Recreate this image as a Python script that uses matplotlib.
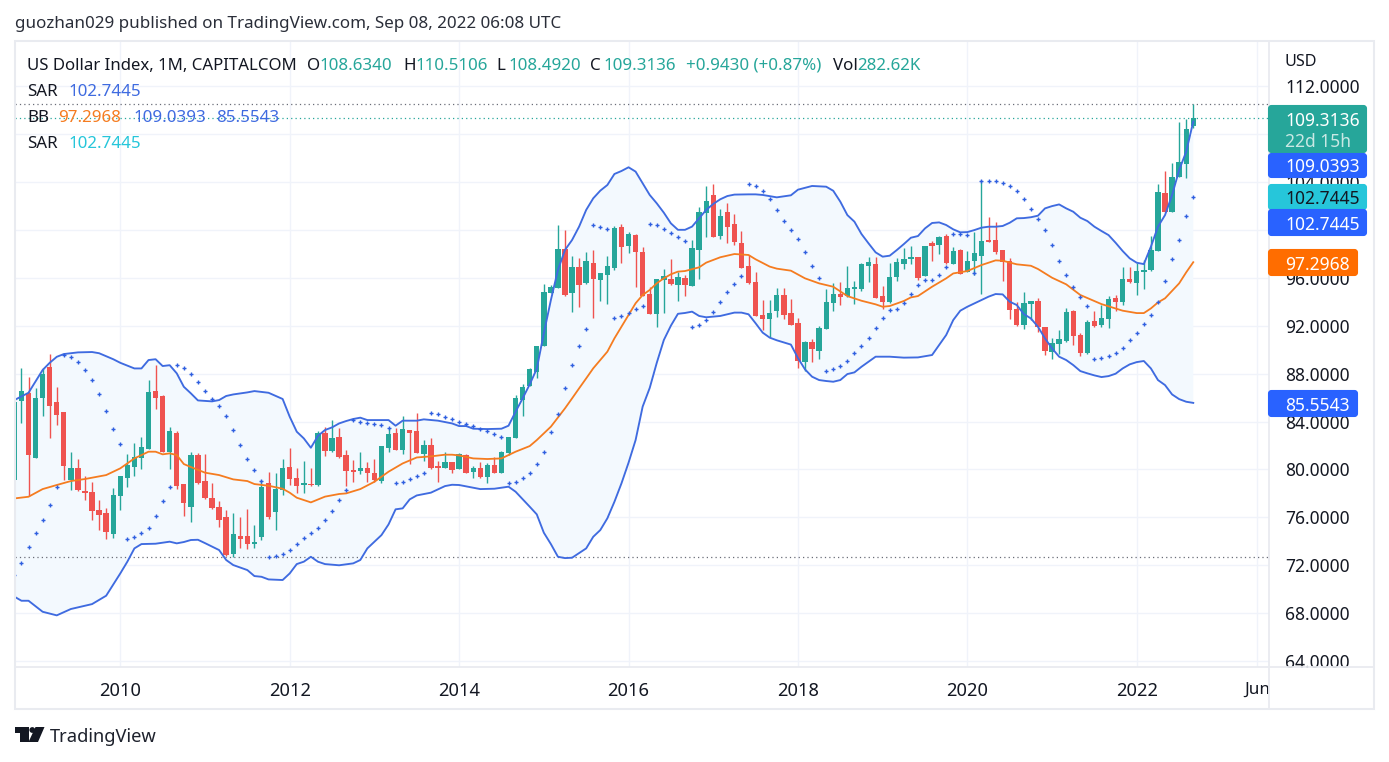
import matplotlib
matplotlib.use("Agg")
import matplotlib.pyplot as plt
from matplotlib.patches import Polygon, Circle, Rectangle, FancyBboxPatch

FONT = "Noto Sans"
plt.rcParams["font.family"] = [FONT, "DejaVu Sans"]

opens = [79.1,85.7,86.35,80.92,85.99,88.52,85.62,84.79,79.11,80.12,78.2,78.11,76.61,76.36,74.61,77.78,79.28,80.2,80.95,81.7,
 86.54,86.13,81.45,83.04,78.78,76.86,81.2,79.03,77.61,76.86,76.03,72.94,74.44,74.44,73.77,74.36,78.86,76.44,78.28,80.2,
 79.28,78.7,78.78,78.7,83.04,81.53,82.7,81.2,79.95,79.87,80.12,79.7,79.03,81.78,83.04,81.62,83.29,83.2,81.28,82.04,
 80.28,80.12,80.62,80.03,81.2,79.78,80.12,79.36,80.37,79.7,81.37,82.62,85.79,86.96,88.13,90.3,94.73,95.15,98.4,94.73,
 96.9,95.56,97.23,95.81,96.23,96.81,100.24,98.65,99.57,98.15,94.65,92.98,95.81,95.9,95.4,95.98,95.31,98.32,101.41,102.91,
 99.49,101.49,100.49,98.87,96.98,95.65,92.9,92.56,93.23,94.56,93.06,92.22,88.97,90.64,89.88,91.72,93.89,94.64,94.47,95.06,
 95.06,96.98,97.14,94.47,93.97,96.06,97.14,97.56,97.73,96.14,98.9,98.73,99.48,97.14,98.31,96.48,97.39,97.81,99.15,99.15,
 98.31,97.39,93.39,92.05,93.8,94.06,91.88,89.8,90.47,90.72,93.22,91.22,89.71,92.38,92.05,92.55,94.31,93.97,95.89,95.56,
 96.5,96.64,98.23,103.07,101.48,104.41,105.49,108.634]
highs = [85.65,88.43,87.68,86.77,88.43,89.63,86.88,84.79,81.45,80.87,79.45,78.92,77.44,76.78,78.45,79.45,81.28,82.2,82.7,87.46,
 88.71,86.21,83.54,83.2,78.78,81.45,81.37,81.28,78.86,77.36,76.61,76.36,76.03,76.69,75.36,79.11,79.78,79.7,80.87,81.78,
 80.12,80.7,80.12,83.2,83.54,84.12,83.45,81.62,80.78,81.45,80.62,80.87,81.95,83.45,83.45,84.46,83.29,84.71,82.45,82.62,
 80.7,81.45,80.62,81.37,81.28,80.28,80.62,80.53,81.03,81.53,82.7,86.21,87.13,88.46,90.3,95.48,95.4,100.4,99.99,97.82,
 97.65,98.15,98.32,96.4,97.82,100.32,100.49,99.82,99.65,98.57,95.23,95.9,96.73,97.57,96.48,96.23,99.15,101.9,103.66,103.83,
 101.74,102.24,101.32,99.9,97.9,96.48,94.14,94.14,95.15,95.15,94.23,92.64,90.72,90.89,91.97,95.06,95.56,95.64,96.98,95.72,
 97.23,97.73,97.73,95.31,97.23,97.64,98.48,98.65,97.73,98.65,99.06,99.48,99.65,98.56,98.39,98.23,99.81,104.16,101.07,100.65,
 98.31,97.64,93.97,94.81,94.06,94.31,91.88,90.97,91.63,93.47,93.3,91.38,92.47,93.22,93.72,94.47,94.56,96.89,96.89,97.23,
 97.5,99.48,103.82,104.9,105.57,108.99,109.25,110.5106]
lows = [79.1,83.9,77.78,80.92,84.46,82.65,83.73,79.11,78.28,78.22,77.44,75.77,74.94,74.19,74.27,76.61,78.53,79.45,80.03,81.7,
 85.04,81.45,80.03,78.36,76.1,75.61,78.78,77.53,76.69,75.19,72.77,72.69,73.44,73.35,73.44,74.11,75.9,74.94,77.86,78.7,
 78.03,78.03,78.61,78.61,81.1,81.45,80.95,78.61,78.95,79.61,78.95,78.95,78.86,81.45,81.62,81.28,80.45,81.37,80.7,80.03,
 78.95,80.12,79.7,80.03,79.7,79.28,79.28,78.86,79.7,79.7,81.2,82.62,84.46,86.96,87.63,90.3,94.7,95.15,94.48,93.14,
 93.56,95.48,92.64,94.06,93.81,96.65,97.23,98.07,95.23,94.48,92.98,91.92,93.06,95.4,94.06,94.48,95.31,95.9,99.4,99.4,
 99.24,98.9,98.74,96.81,95.48,92.81,91.64,91.06,92.73,92.56,92.06,88.47,88.22,88.97,89.21,91.72,93.22,93.72,94.39,93.8,
 94.89,95.64,94.31,93.39,93.89,95.72,96.73,97.14,95.81,96.14,97.39,97.98,97.14,97.14,96.31,96.48,96.23,94.64,98.98,97.98,
 95.72,92.55,91.97,91.72,92.47,91.47,89.55,89.21,89.63,90.63,90.38,89.46,89.63,91.88,91.88,91.8,93.22,93.72,95.56,94.56,
 95.05,96.56,98.23,101.48,101.48,104.41,104.32,108.492]
closes = [85.65,86.54,81.2,85.93,87.96,85.32,84.57,80.28,80.12,78.28,78.03,76.53,76.19,74.77,77.86,79.45,80.37,81.03,81.87,86.46,
 85.96,81.45,83.2,78.61,77.19,81.2,78.86,77.61,76.78,75.77,72.85,74.61,74.19,73.77,73.94,78.53,76.03,78.36,80.12,79.2,
 78.61,78.86,78.7,83.04,81.53,82.62,81.03,79.87,79.78,80.12,79.7,79.11,81.95,82.95,81.62,83.37,83.04,81.37,82.04,80.12,
 80.12,80.62,79.95,81.28,79.7,80.12,79.36,80.37,79.7,81.45,82.7,85.96,86.88,88.38,90.3,94.81,95.23,98.4,94.56,96.9,
 95.4,97.4,95.9,96.4,96.98,100.15,98.57,99.65,98.15,94.48,92.98,95.9,96.15,95.48,96.06,95.4,98.48,101.49,102.41,99.4,
 101.16,100.24,98.99,96.81,95.56,92.81,92.56,93.06,94.56,92.9,92.06,89.05,90.64,90.05,91.8,93.97,94.64,94.39,95.14,95.22,
 97.14,97.31,94.31,93.97,96.06,97.31,97.56,97.73,95.98,98.65,98.65,99.4,97.23,98.23,96.31,97.39,98.06,99.06,98.98,98.15,
 97.31,93.3,92.05,93.89,94.06,91.88,89.88,90.55,90.88,93.14,91.13,89.71,92.3,91.97,92.64,94.22,93.97,95.89,95.64,96.56,
 96.64,98.31,103.15,101.48,104.41,105.66,108.41,109.3136]

upper_months = [0,2,4,5,6,7,9,11,12,14,15,17,18,19,20,21,22,23,24,25,26,28,29,30,31,33,34,36,38,39,40,41,42,43,44,45,46,47,48,49,50,52,53,54,55,57,58,60,62,63,64,65,67,69,70,71,72,73,74,75,76,77,78,79,80,81,82,83,84,85,86,87,88,89,90,91,92,93,94,95,96,97,98,99,100,101,102,104,105,106,108,110,111,113,115,116,117,118,119,120,121,122,123,124,125,126,127,128,129,130,131,132,133,134,135,136,137,138,139,140,141,142,143,144,145,146,147,148,149,150,151,152,153,154,155,156,157,158,159,160,161,162,163,164,165,166,167]
upper_vals = [85.79,86.4,88.3,88.9,89.4,89.63,89.77,89.8,89.7,89.2,88.9,88.43,88.43,89.13,89.2,88.63,88.7,88.02,86.9,86.35,85.76,85.68,85.79,86.13,86.26,86.43,86.54,86.4,85.88,84.4,83.15,82.59,81.81,82.8,83.29,83.51,83.84,84.04,84.21,84.32,84.12,84.12,84.12,83.65,84.07,84.07,84.18,84.07,83.84,83.62,83.62,83.4,83.37,83.4,83.65,84.82,85.93,87.1,88.4,91.36,94.14,96.65,98.32,99.15,100.27,101.66,102.63,103.27,103.74,104.66,104.91,105.22,104.86,103.88,102.91,102.21,101.43,100.54,100.0,100.0,100.27,100.96,101.66,102.16,102.55,102.82,102.94,102.96,102.96,102.91,102.71,102.88,103.35,103.66,103.6,103.26,102.35,101.23,100.68,99.65,98.87,98.12,97.76,97.84,98.31,98.81,99.34,99.48,100.12,100.57,100.62,100.4,100.04,99.79,99.81,99.98,100.18,100.26,100.26,100.32,100.59,100.96,100.98,101.05,101.18,101.79,101.98,102.12,101.79,101.51,101.01,100.73,100.26,99.9,99.56,98.92,98.23,97.62,97.25,97.14,98.59,100.26,101.23,102.9,104.99,106.52,109.0393]

mid_months = [0,2,4,6,8,10,13,15,17,19,20,21,22,23,24,25,27,29,31,33,34,36,38,39,40,42,44,46,47,49,51,53,55,57,59,61,62,63,65,67,69,71,73,74,76,78,79,80,81,82,84,85,87,88,89,90,91,92,93,94,95,97,98,100,102,104,105,107,108,110,111,112,114,116,118,120,122,123,124,126,127,128,130,132,133,135,137,139,140,142,144,145,147,149,151,154,157,159,160,161,162,163,165,166,167]
mid_vals = [77.58,77.72,78.36,78.7,79.03,79.2,79.53,80.09,80.92,81.48,81.48,81.26,81.34,81.2,80.45,80.2,79.73,79.53,79.17,79.03,78.78,78.64,78.39,78.06,77.64,77.25,77.73,77.95,78.0,78.36,78.97,79.81,80.5,81.0,81.09,81.23,81.23,81.17,80.92,80.87,80.92,81.48,81.95,82.45,83.57,85.1,85.93,86.77,87.6,88.44,89.83,90.94,92.89,93.87,94.56,94.98,95.54,95.95,96.29,96.51,96.56,96.87,97.26,97.71,97.98,97.9,97.54,96.93,96.76,96.59,96.27,95.95,95.53,95.25,94.47,94.08,93.78,93.58,93.64,94.06,94.36,94.47,95.25,95.95,96.36,96.56,97.06,97.45,97.42,97.12,97.0,96.73,96.0,95.45,94.56,93.8,93.25,93.05,93.05,93.44,93.94,94.28,95.53,96.45,97.2968]

lower_months = [0,1,2,4,6,8,11,13,15,16,17,18,20,22,23,24,25,26,27,29,30,31,33,34,35,36,38,39,40,41,42,43,44,46,48,49,50,52,53,54,55,56,57,59,61,62,63,65,66,68,70,71,73,74,75,76,77,78,79,81,82,83,84,85,86,87,88,89,90,91,92,93,94,95,96,97,98,100,102,103,104,105,106,107,108,110,111,112,113,114,115,116,117,118,119,120,121,122,124,126,128,130,131,132,133,134,135,136,137,138,139,140,141,142,143,144,145,146,147,148,149,150,151,152,153,154,155,156,157,158,159,160,161,162,163,164,165,166,167]
lower_vals = [69.38,69.04,69.04,68.12,67.82,68.35,68.76,69.46,71.32,72.3,73.41,73.77,73.8,73.97,73.83,73.94,74.11,74.13,73.85,73.27,72.44,72.02,71.6,71.1,71.04,70.82,70.77,71.32,72.1,72.3,72.71,72.3,72.1,72.0,72.16,72.44,73.41,74.52,75.41,76.67,76.75,77.5,77.83,78.06,78.61,78.72,78.7,78.47,78.36,78.39,78.56,78.14,76.89,76.25,74.72,73.77,72.71,72.6,72.63,73.41,74.38,74.94,75.92,77.3,78.84,80.56,82.45,85.24,86.8,88.9,90.8,92.0,92.99,93.06,93.17,92.81,92.7,92.81,93.09,93.09,92.95,92.2,91.42,91.0,90.78,90.42,89.3,88.35,87.74,87.46,87.38,87.32,87.46,87.96,88.1,88.57,88.99,89.41,89.41,89.33,89.35,89.55,90.38,91.22,92.47,93.25,93.58,93.86,94.14,94.42,94.64,94.61,94.0,93.72,92.97,92.6,91.91,90.94,90.1,89.41,89.13,88.71,88.21,88.02,87.85,87.71,87.79,87.99,88.43,88.77,88.96,89.05,88.43,87.46,87.04,86.26,85.87,85.65,85.5543]

sar_vals = [71.16,72.16,73.49,74.66,75.75,77.0,78.5,89.58,89.35,88.94,88.27,87.43,86.26,84.85,83.34,82.09,74.16,74.33,74.66,75.08,76.08,77.33,78.5,88.69,88.45,87.93,87.27,86.52,85.85,85.26,84.43,83.26,82.01,80.84,79.92,79.0,72.66,72.74,72.91,73.24,73.74,74.24,74.66,75.08,75.75,76.5,77.42,78.25,84.09,83.93,83.84,83.76,83.68,83.43,78.84,78.92,79.17,79.42,79.67,84.68,84.6,84.35,84.18,83.93,83.76,83.59,83.34,83.18,82.93,82.68,78.84,78.92,79.25,79.67,80.42,81.42,83.09,84.6,86.77,88.69,90.27,91.7,100.38,100.21,100.04,92.61,92.78,93.03,93.36,93.62,100.46,100.38,100.04,99.71,99.37,99.04,91.86,92.03,92.45,93.11,93.95,94.78,95.45,96.12,103.8,103.63,103.21,102.55,101.63,100.71,99.96,99.21,98.12,96.95,95.95,88.18,88.35,88.6,89.02,89.69,90.27,90.94,91.77,92.61,93.28,93.36,93.86,94.61,95.36,95.78,95.78,96.2,96.87,99.62,99.62,99.54,96.36,104.04,104.04,104.04,103.88,103.63,103.21,102.54,101.71,100.87,99.95,98.7,97.37,96.2,95.2,94.39,93.61,89.18,89.27,89.44,89.69,90.1,90.77,91.36,92.11,92.86,93.94,95.7,97.53,99.12,101.12,102.7445]

year_ticks = [15,39,63,87,111,135,159,176]
year_labels = ["2010","2012","2014","2016","2018","2020","2022","Jun"]
price_ticks = [64,68,72,76,80,84,88,92,96,100,104,108,112]
price_labels = ["64.0000","68.0000","72.0000","76.0000","80.0000","84.0000","88.0000","92.0000","96.0000","","104.0000","","112.0000"]
session_high = 110.5106
session_low = 72.69
last_close = 109.3136

W, H = 1389, 762
UP, DOWN = "#26A69A", "#EF5350"
BLUE, ORANGE, CYAN = "#3F6BE0", "#F57C20", "#26C6DA"
TAGBLUE = "#2962FF"
INK = "#131722"
GRID = "#F0F3FA"
BORDER = "#E9EBF0"
LEG = 12.2
TAGSIZE = 12.5

fig = plt.figure(figsize=(W/100, H/100), dpi=100, facecolor="white")
PL, PR, PT, PB = 15, 1269, 41, 667
ax = fig.add_axes([PL/W, 1-PB/H, (PR-PL)/W, (PB-PT)/H])
ax.set_xlim(0.085, 177.73)
ax.set_ylim(63.51, 115.76)
for s in ax.spines.values():
    s.set_visible(False)
ax.set_xticks(year_ticks, year_labels)
ax.set_yticks(price_ticks, price_labels)
ax.yaxis.tick_right()
ax.tick_params(axis="both", length=0, labelsize=12.5, labelcolor=INK)
ax.tick_params(axis="x", pad=10.5, labelsize=13.2)
for lab in ax.get_xticklabels():
    lab.set_fontweight("medium")
ax.get_xticklabels()[-1].set_fontsize(12.2)
ax.get_xticklabels()[-1].set_fontweight("normal")
ax.tick_params(axis="y", pad=11.5)
ax.grid(True, color=GRID, lw=1)
ax.set_axisbelow(True)

# band fill
poly = list(zip(upper_months, upper_vals)) + list(zip(lower_months, lower_vals))[::-1]
ax.add_patch(Polygon(poly, closed=True, facecolor="#F3F9FE", edgecolor="none", zorder=1))

# dotted high / low / last lines
ax.axhline(session_high, color="#6A6D78", lw=0.9, ls=(0, (1, 2.5)), zorder=2)
ax.axhline(session_low, color="#6A6D78", lw=0.9, ls=(0, (1, 2.5)), zorder=2)
ax.axhline(last_close, color=UP, lw=0.9, ls=(0, (1, 2.5)), zorder=2)

# bands
ax.plot(mid_months, mid_vals, color=ORANGE, lw=1.3, zorder=4)
ax.plot(upper_months, upper_vals, color=BLUE, lw=1.35, zorder=4)
ax.plot(lower_months, lower_vals, color=BLUE, lw=1.35, zorder=4)

# candles
for i, (o, h, l, c) in enumerate(zip(opens, highs, lows, closes)):
    col = UP if c >= o else DOWN
    ax.vlines(i, l, h, color=col, lw=1.0, zorder=3)
    ax.bar(i, abs(c-o), bottom=min(o, c), width=0.76, color=col, lw=0, zorder=3)

# SAR
ax.plot(range(len(sar_vals)), sar_vals, ls="none", marker="+", ms=3.4, mew=1.0, color="#2F5FE0", zorder=5)

# pixel-space overlay for chrome
ov = fig.add_axes([0, 0, 1, 1], facecolor="none")
ov.set_xlim(0, W)
ov.set_ylim(H, 0)
ov.axis("off")

def t(x, y, s, color=INK, size=LEG, ha="left", **kw):
    ov.text(x, y, s, color=color, fontsize=size, ha=ha, va="center", **kw)

# frame
ov.add_patch(Rectangle((14.5, 41), 1359.5, 668, fill=False, ec=BORDER, lw=1.5))
ov.plot([14.5, 1374], [667, 667], color=BORDER, lw=1.3)
ov.plot([1269, 1269], [41, 709], color=BORDER, lw=1.3)

t(15, 24, "guozhan029 published on TradingView.com, Sep 08, 2022 06:08 UTC", color="#2A2E39", size=12.25)
t(1285, 62, "USD", size=11.6)

# legend
TEAL = UP
t(27, 66, "US Dollar Index, 1M, CAPITALCOM", size=12.1)
for x, s, c in [(307, "O", INK), (319, "108.6340", TEAL), (403, "H", INK), (415, "110.5106", TEAL),
                (496, "L", INK), (508, "108.4920", TEAL), (590, "C", INK), (603, "109.3136", TEAL),
                (686, "+0.9430 (+0.87%)", TEAL), (833, "Vol", INK), (857, "282.62K", TEAL)]:
    t(x, 66, s, color=c)
t(27, 92, "SAR"); t(68, 92, "102.7445", color=BLUE)
t(27, 118, "BB"); t(58, 118, "97.2968", color=ORANGE)
t(133, 118, "109.0393", color=BLUE); t(216, 118, "85.5543", color=BLUE)
t(27, 144, "SAR"); t(68, 144, "102.7445", color=CYAN)

# price tags
def tag(y0, y1, x1, fc):
    ov.add_patch(FancyBboxPatch((1269, y0+1), x1-1270, y1-y0-2, boxstyle="round,pad=0,rounding_size=2.5",
                                fc=fc, ec=fc, lw=1.5, zorder=6))
tag(105, 153, 1367, "#26A69A")
t(1285, 121, "109.3136", color="white", zorder=7, size=TAGSIZE)
t(1285, 142, "22d 15h", color="#C9E8E4", zorder=7, size=TAGSIZE)
tag(153, 178, 1367, TAGBLUE)
t(1285, 167.5, "109.0393", color="white", zorder=7, size=TAGSIZE)
tag(184, 210, 1367, CYAN)
t(1285, 199, "102.7445", color=INK, zorder=7, size=TAGSIZE)
tag(209, 236, 1367, TAGBLUE)
t(1285, 225, "102.7445", color="white", zorder=7, size=TAGSIZE)
tag(249, 276, 1358, "#FF6D00")
t(1285, 265, "97.2968", color="white", zorder=7, size=TAGSIZE)
tag(390, 417, 1358, TAGBLUE)
t(1285, 406, "85.5543", color="white", zorder=7, size=TAGSIZE)

# logo
LOGO = "#131722"
ov.add_patch(Polygon([(15, 727), (28.5, 727), (28.5, 742), (20, 742), (20, 732.5), (15, 732.5)], closed=True, fc=LOGO, ec="none"))
ov.add_patch(Circle((32.3, 730), 2.9, fc=LOGO, ec="none"))
ov.add_patch(Polygon([(35.5, 727), (44.5, 727), (38, 742), (28.5, 742)], closed=True, fc=LOGO, ec="none"))
t(50, 736.5, "TradingView", size=13.2, color="#1E222D")

fig.savefig("out.png", dpi=100, facecolor="white")
